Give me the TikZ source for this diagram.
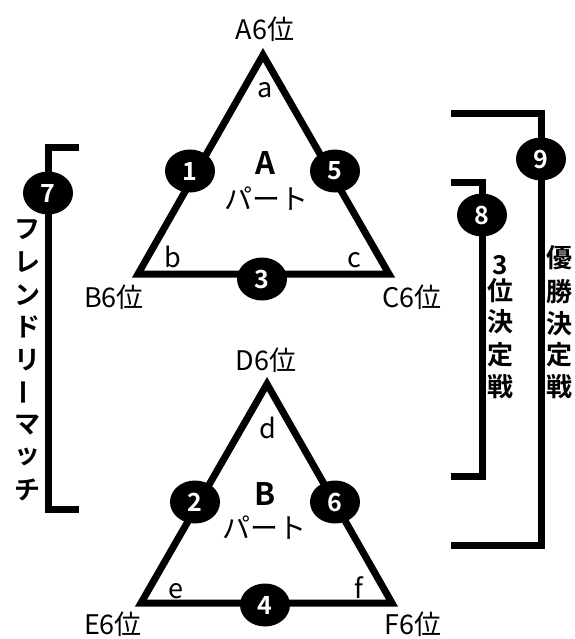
\documentclass[tikz,border=0pt]{standalone}
\usepackage{fontspec}
\setmainfont{Noto Sans CJK JP}[BoldFont={Noto Sans CJK JP Bold}]
\usetikzlibrary{shapes.geometric}
\begin{document}
\begin{tikzpicture}[x=1pt,y=-1pt,
  edge/.style={line width=7pt, line join=miter, line cap=butt},
  num/.style={ellipse, fill=black, minimum width=50pt, minimum height=43pt, inner sep=0pt, text=white, font=\fontsize{25}{25}\selectfont\bfseries},
  lbl/.style={anchor=base, inner sep=0pt, font=\fontsize{27}{27}\selectfont},
  part/.style={inner sep=0pt, font=\fontsize{28}{28}\selectfont},
  partb/.style={anchor=base, inner sep=0pt, font=\fontsize{31}{31}\selectfont\bfseries},
  vch/.style={inner sep=0pt, font=\fontsize{26}{26}\selectfont\bfseries}
]
\useasboundingbox (0,0) rectangle (574,639);
% ---------- Triangle A ----------
\coordinate (Atop) at (263,55);
\coordinate (Al) at (138,274);
\coordinate (Ar) at (389,274);
\draw[edge] (Atop) -- (Al) -- (Ar) -- cycle;
\node[num] (n1) at (190,171) {1};
\node[num] (n5) at (335,171) {5};
\node[num] (n3) at (262,279) {3};
\node[lbl] (lA6) at (265,40) {A6位};
\node[lbl] (la) at (265,98) {a};
\node[partb] (tA) at (265,175) {A};
\node[part] (pA) at (266,199) {パート};
\node[lbl] (lb) at (173,267) {b};
\node[lbl] (lc) at (354,267) {c};
\node[lbl] (lB6) at (114,307) {B6位};
\node[lbl] (lC6) at (412,307) {C6位};
% ---------- Triangle B ----------
\coordinate (Btop) at (267,384);
\coordinate (Bl) at (141,603);
\coordinate (Br) at (392,603);
\draw[edge] (Btop) -- (Bl) -- (Br) -- cycle;
\node[num] (n2) at (195,502) {2};
\node[num] (n6) at (335,502) {6};
\node[num] (n4) at (265,605) {4};
\node[lbl] (lD6) at (266,370) {D6位};
\node[lbl] (ld) at (268,438) {d};
\node[partb] (tB) at (265,505) {B};
\node[part] (pB) at (264,528) {パート};
\node[lbl] (le) at (176,598) {e};
\node[lbl] (lf) at (359,598) {f};
\node[lbl] (lE6) at (113,634) {E6位};
\node[lbl] (lF6) at (413,634) {F6位};
% ---------- Left bracket (7) ----------
\coordinate (L1) at (79,148);
\coordinate (L2) at (48,148);
\coordinate (L3) at (48,509);
\coordinate (L4) at (79,509);
\draw[edge] (L1) -- (L2) -- (L3) -- (L4);
\node[num] (n7) at (48,193) {7};
\node[vch] (f1) at (27,230) {フ};
\node[vch] (f2) at (27,262) {レ};
\node[vch] (f3) at (27,295) {ン};
\node[vch] (f4) at (27,327) {ド};
\node[vch] (f5) at (27,360) {リ};
\node[vch,rotate=90] (f6) at (27,392) {ー};
\node[vch] (f7) at (27,425) {マ};
\node[vch] (f8) at (27,457) {ッ};
\node[vch] (f9) at (27,490) {チ};
% ---------- Right bracket (9) ----------
\coordinate (R1) at (451,114);
\coordinate (R2) at (541,114);
\coordinate (R3) at (541,545);
\coordinate (R4) at (451,545);
\draw[edge] (R1) -- (R2) -- (R3) -- (R4);
\node[num] (n9) at (541,159) {9};
\node[vch] (y1) at (559,258) {優};
\node[vch] (y2) at (559,292) {勝};
\node[vch] (y3) at (559,324) {決};
\node[vch] (y4) at (559,355) {定};
\node[vch] (y5) at (559,387) {戦};
% ---------- Right bracket (8) ----------
\coordinate (S1) at (451,182);
\coordinate (S2) at (482,182);
\coordinate (S3) at (482,476);
\coordinate (S4) at (451,476);
\draw[edge] (S1) -- (S2) -- (S3) -- (S4);
\node[num] (n8) at (482,215) {8};
\node[vch] (t1) at (500,265) {3};
\node[vch] (t2) at (500,291) {位};
\node[vch] (t3) at (500,322) {決};
\node[vch] (t4) at (500,355) {定};
\node[vch] (t5) at (500,387) {戦};
\end{tikzpicture}
\end{document}
